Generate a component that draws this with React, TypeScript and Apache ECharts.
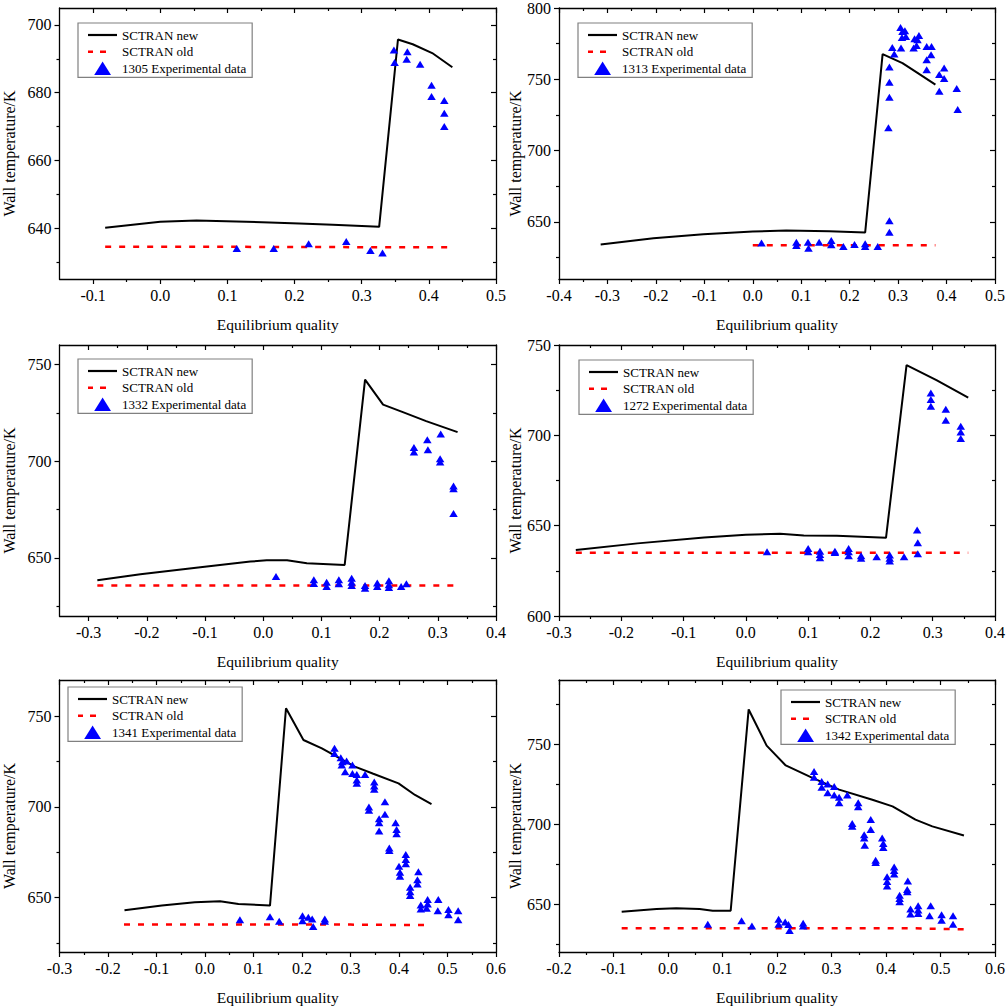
import React, { useEffect, useRef } from "react";
import * as echarts from "echarts";

const FONT = "Liberation Serif, Times New Roman, Times, serif";

const caseIds = ["1305", "1313", "1332", "1272", "1341", "1342"];
const seriesNewName = "SCTRAN new";
const seriesOldName = "SCTRAN old";
const xTitle = "Equilibrium quality";
const yTitle = "Wall temperature/K";

// axis ranges
const xMins = [-0.15, -0.4, -0.35, -0.3, -0.3, -0.2];
const xMaxs = [0.5, 0.5, 0.4, 0.4, 0.6, 0.6];
const yMins = [625, 610, 620, 600, 620, 620];
const yMaxs = [705, 800, 760, 750, 770, 790];

// tick values
const xMajorTicks = [
  [-0.1, 0, 0.1, 0.2, 0.3, 0.4, 0.5],
  [-0.4, -0.3, -0.2, -0.1, 0, 0.1, 0.2, 0.3, 0.4, 0.5],
  [-0.3, -0.2, -0.1, 0, 0.1, 0.2, 0.3, 0.4],
  [-0.3, -0.2, -0.1, 0, 0.1, 0.2, 0.3, 0.4],
  [-0.3, -0.2, -0.1, 0, 0.1, 0.2, 0.3, 0.4, 0.5, 0.6],
  [-0.2, -0.1, 0, 0.1, 0.2, 0.3, 0.4, 0.5, 0.6],
];
const xMinorTicks = [
  [-0.05, 0.05, 0.15, 0.25, 0.35, 0.45],
  [-0.35, -0.25, -0.15, -0.05, 0.05, 0.15, 0.25, 0.35, 0.45],
  [-0.25, -0.15, -0.05, 0.05, 0.15, 0.25, 0.35],
  [-0.25, -0.15, -0.05, 0.05, 0.15, 0.25, 0.35],
  [-0.25, -0.15, -0.05, 0.05, 0.15, 0.25, 0.35, 0.45, 0.55],
  [-0.15, -0.05, 0.05, 0.15, 0.25, 0.35, 0.45, 0.55],
];
const yMajorTicks = [
  [640, 660, 680, 700],
  [650, 700, 750, 800],
  [650, 700, 750],
  [600, 650, 700, 750],
  [650, 700, 750],
  [650, 700, 750],
];
const yMinorTicks = [
  [630, 650, 670, 690],
  [625, 675, 725, 775],
  [625, 675, 725],
  [625, 675, 725],
  [625, 675, 725],
  [625, 675, 725, 775],
];

// ---- Panel 1 (1305)
const p1New = [
  [-0.082, 640.1], [0.0, 641.9], [0.054, 642.3], [0.163, 641.7], [0.207, 641.4],
  [0.257, 641.0], [0.326, 640.4], [0.354, 695.7], [0.376, 694.3], [0.405, 691.7], [0.435, 687.5],
];
const p1Old = [[-0.082, 634.5], [0.1, 634.5], [0.3, 634.4], [0.436, 634.4]];
const p1Exp = [
  [0.114, 634.0], [0.169, 634.0], [0.221, 635.4], [0.277, 636.1], [0.313, 633.4], [0.331, 632.7],
  [0.348, 692.6], [0.349, 688.9], [0.368, 692.1], [0.367, 689.9], [0.387, 688.4], [0.404, 682.2],
  [0.404, 678.9], [0.423, 677.7], [0.423, 673.9], [0.423, 670.0],
];

// ---- Panel 2 (1313)
const p2New = [
  [-0.314, 634.2], [-0.205, 638.6], [-0.102, 641.4], [0.0, 643.3], [0.069, 644.0], [0.158, 643.5],
  [0.232, 642.6], [0.268, 767.7], [0.309, 761.4], [0.34, 754.5], [0.377, 746.3],
];
const p2Old = [[0.0, 633.7], [0.1, 633.7], [0.2, 633.7], [0.3, 633.7], [0.377, 633.7]];
const p2Exp = [
  [0.305, 786.3], [0.314, 784.0], [0.309, 783.5], [0.308, 779.3], [0.316, 780.0], [0.334, 778.4],
  [0.343, 780.7], [0.34, 777.7], [0.288, 772.3], [0.306, 771.9], [0.332, 771.9], [0.338, 773.7],
  [0.359, 773.0], [0.369, 773.0], [0.292, 767.7], [0.359, 763.7], [0.368, 767.2], [0.282, 758.6],
  [0.395, 757.9], [0.359, 756.7], [0.385, 753.3], [0.395, 750.5], [0.282, 747.9], [0.421, 743.5],
  [0.385, 741.6], [0.282, 737.4], [0.423, 728.8], [0.28, 716.0], [0.282, 650.9], [0.282, 642.8],
  [0.018, 635.3], [0.09, 635.8], [0.09, 633.5], [0.114, 635.8], [0.115, 631.6], [0.137, 635.8],
  [0.162, 637.0], [0.162, 634.0], [0.187, 632.8], [0.21, 634.2], [0.232, 634.7], [0.232, 632.8],
  [0.258, 632.8],
];

// ---- Panel 3 (1332)
const p3New = [
  [-0.285, 638.5], [-0.211, 641.6], [-0.108, 645.2], [-0.022, 648.1], [0.006, 648.8], [0.041, 648.8],
  [0.075, 647.3], [0.14, 646.4], [0.175, 742.1], [0.206, 729.2], [0.24, 725.3], [0.28, 720.7], [0.334, 715.0],
];
const p3Old = [[-0.285, 635.8], [0.0, 635.8], [0.2, 635.8], [0.336, 635.8]];
const p3Exp = [
  [0.022, 640.4], [0.087, 638.7], [0.087, 636.8], [0.109, 637.5], [0.109, 635.2], [0.13, 638.7],
  [0.13, 636.6], [0.152, 639.5], [0.152, 637.5], [0.152, 635.8], [0.175, 635.8], [0.175, 634.4],
  [0.196, 637.0], [0.196, 635.2], [0.216, 638.2], [0.216, 636.1], [0.216, 634.7], [0.237, 635.2],
  [0.246, 636.6], [0.259, 707.0], [0.259, 704.7], [0.282, 711.1], [0.283, 705.9], [0.305, 714.0],
  [0.304, 701.3], [0.304, 699.6], [0.327, 687.2], [0.327, 685.8], [0.327, 673.0],
];

// ---- Panel 4 (1272)
const p4New = [
  [-0.273, 636.5], [-0.174, 640.2], [-0.067, 643.5], [0.0, 645.0], [0.055, 645.5], [0.093, 644.6],
  [0.146, 644.4], [0.225, 643.3], [0.258, 738.9], [0.306, 730.5], [0.357, 720.9],
];
const p4Old = [[-0.273, 635.0], [0.0, 635.0], [0.2, 635.0], [0.357, 635.0]];
const p4Exp = [
  [0.034, 635.6], [0.1, 637.4], [0.1, 635.6], [0.119, 635.9], [0.119, 634.1], [0.119, 632.3],
  [0.143, 635.9], [0.143, 635.2], [0.165, 637.4], [0.165, 635.6], [0.165, 633.4], [0.185, 633.4],
  [0.185, 631.9], [0.21, 632.8], [0.231, 633.7], [0.231, 632.0], [0.231, 630.4], [0.254, 632.8],
  [0.275, 647.6], [0.276, 640.6], [0.276, 634.5], [0.297, 723.5], [0.297, 719.8], [0.297, 716.1],
  [0.321, 714.4], [0.321, 708.4], [0.345, 705.0], [0.345, 701.9], [0.345, 698.2],
];

// ---- Panel 5 (1341)
const p5New = [
  [-0.166, 643.0], [-0.089, 645.6], [-0.021, 647.4], [0.031, 648.0], [0.069, 646.5], [0.134, 645.6],
  [0.167, 754.4], [0.203, 736.9], [0.241, 732.3], [0.309, 722.2], [0.347, 718.3], [0.399, 713.0],
  [0.433, 706.6], [0.467, 701.6],
];
const p5Old = [[-0.167, 635.2], [0.1, 635.2], [0.3, 635.1], [0.4, 634.9], [0.467, 634.9]];
const p5Exp = [
  [0.267, 732.3], [0.267, 729.5], [0.28, 727.1], [0.283, 724.9], [0.292, 725.3], [0.282, 723.1],
  [0.304, 723.1], [0.289, 719.4], [0.304, 718.5], [0.313, 717.9], [0.313, 714.8], [0.313, 713.0],
  [0.33, 717.9], [0.349, 713.8], [0.349, 711.6], [0.349, 709.8], [0.338, 700.0], [0.338, 698.2],
  [0.371, 702.8], [0.371, 696.0], [0.359, 693.5], [0.359, 691.3], [0.359, 686.7], [0.393, 691.3],
  [0.395, 687.6], [0.395, 685.2], [0.38, 677.3], [0.38, 676.0], [0.414, 673.7], [0.414, 671.0],
  [0.414, 668.6], [0.4, 667.3], [0.402, 664.0], [0.402, 661.8], [0.44, 664.2], [0.438, 659.9],
  [0.438, 657.5], [0.423, 655.7], [0.423, 653.2], [0.423, 651.1], [0.445, 645.9], [0.445, 643.7],
  [0.459, 648.9], [0.459, 646.5], [0.457, 644.1], [0.481, 648.9], [0.48, 642.8], [0.502, 643.4],
  [0.502, 640.6], [0.522, 642.8], [0.522, 637.8],
  [0.072, 637.8], [0.134, 639.5], [0.153, 636.9], [0.201, 640.0], [0.201, 637.2], [0.213, 639.1],
  [0.221, 638.2], [0.223, 634.0], [0.247, 638.2], [0.247, 636.9],
];

// ---- Panel 6 (1342)
const p6New = [
  [-0.085, 645.2], [-0.021, 646.9], [0.015, 647.3], [0.058, 646.9], [0.082, 645.8], [0.115, 645.8],
  [0.148, 771.6], [0.181, 749.0], [0.216, 736.6], [0.265, 728.8], [0.314, 721.5], [0.375, 715.2],
  [0.412, 711.0], [0.454, 702.7], [0.485, 698.5], [0.543, 692.8],
];
const p6Old = [[-0.085, 634.9], [0.1, 634.9], [0.3, 634.9], [0.45, 634.8], [0.543, 634.2]];
const p6Exp = [
  [0.268, 732.8], [0.268, 729.2], [0.282, 726.5], [0.282, 722.9], [0.293, 725.0], [0.293, 719.6],
  [0.305, 723.4], [0.305, 718.1], [0.314, 716.7], [0.314, 713.3], [0.329, 718.1], [0.349, 713.3],
  [0.349, 710.8], [0.372, 702.8], [0.372, 696.5], [0.338, 700.3], [0.338, 698.6], [0.36, 693.3],
  [0.36, 691.2], [0.361, 686.7], [0.393, 691.2], [0.395, 687.8], [0.395, 685.3], [0.381, 677.4],
  [0.381, 676.0], [0.415, 673.1], [0.415, 670.9], [0.415, 668.8], [0.402, 667.1], [0.402, 664.0],
  [0.402, 661.3], [0.44, 664.4], [0.439, 659.1], [0.439, 657.6], [0.425, 655.5], [0.425, 653.5],
  [0.425, 651.4], [0.445, 646.9], [0.445, 643.7], [0.459, 648.9], [0.459, 646.2], [0.459, 644.1],
  [0.482, 648.9], [0.48, 642.6], [0.502, 643.3], [0.502, 639.9], [0.523, 642.6], [0.523, 637.4],
  [0.073, 637.4], [0.135, 639.5], [0.154, 636.3], [0.203, 640.4], [0.203, 637.4], [0.215, 638.8],
  [0.221, 637.2], [0.223, 633.4], [0.248, 638.0], [0.248, 636.3],
];

const newData = [p1New, p2New, p3New, p4New, p5New, p6New];
const oldData = [p1Old, p2Old, p3Old, p4Old, p5Old, p6Old];
const expData = [p1Exp, p2Exp, p3Exp, p4Exp, p5Exp, p6Exp];

// legend icons drawn in a 29 x 14 box (corner anchors keep the box size)
const ICON_BOX = "M0,0L0,0M29,14L29,14";
const ICON_LINE = "path://" + ICON_BOX + "M0,5.9L29,5.9L29,8.1L0,8.1Z";
const ICON_DASH =
  "path://" + ICON_BOX + "M0,5.7L5,5.7L5,8.3L0,8.3ZM12,5.7L18,5.7L18,8.3L12,8.3Z";
const ICON_TRI = "path://" + ICON_BOX + "M14.6,0L23,13.6L6.2,13.6Z";

function buildOption() {
  const grid: any[] = [];
  const xAxis: any[] = [];
  const yAxis: any[] = [];
  const series: any[] = [];
  const legend: any[] = [];

  const gridLefts = [59, 559];
  const gridTops = [8, 345, 680];
  const gridHeights = [271, 271, 272];
  const legendPos = [
    [78, 23], [578, 23], [78, 359], [579, 360], [68, 687], [781, 690],
  ];
  const yNameGaps = [42.5, 32.5];

  const axisLine = { show: true, onZero: false, lineStyle: { color: "#000", width: 1.3 } };
  const noLine = { show: false, onZero: false };
  const tickStyle = { color: "#000", width: 1.2 };

  for (let i = 0; i < 6; i++) {
    const col = i % 2;
    const row = Math.floor(i / 2);
    grid.push({
      left: gridLefts[col],
      top: gridTops[row],
      width: 437,
      height: gridHeights[row],
      containLabel: false,
    });

    const xb = { type: "value", gridIndex: i, min: xMins[i], max: xMaxs[i], splitLine: { show: false } };
    const yb = { type: "value", gridIndex: i, min: yMins[i], max: yMaxs[i], splitLine: { show: false } };

    xAxis.push({
      ...xb,
      position: "bottom",
      axisLine,
      axisTick: { show: true, inside: false, length: 5, customValues: xMajorTicks[i], lineStyle: tickStyle },
      axisLabel: {
        show: true,
        customValues: xMajorTicks[i],
        formatter: (v: number) => v.toFixed(1),
        margin: 8,
        color: "#000",
        fontFamily: FONT,
        fontSize: 16,
      },
      name: xTitle,
      nameLocation: "middle",
      nameGap: 37,
      nameTextStyle: { fontFamily: FONT, fontSize: 15.5, color: "#000" },
    });
    xAxis.push({
      ...xb,
      position: "bottom",
      axisLine: noLine,
      axisTick: { show: true, inside: false, length: 3, customValues: xMinorTicks[i], lineStyle: tickStyle },
      axisLabel: { show: false },
    });
    xAxis.push({
      ...xb,
      position: "top",
      axisLine,
      axisTick: { show: true, inside: true, length: 5, customValues: xMajorTicks[i], lineStyle: tickStyle },
      axisLabel: { show: false },
    });
    xAxis.push({
      ...xb,
      position: "top",
      axisLine: noLine,
      axisTick: { show: true, inside: true, length: 3, customValues: xMinorTicks[i], lineStyle: tickStyle },
      axisLabel: { show: false },
    });

    yAxis.push({
      ...yb,
      position: "left",
      axisLine,
      axisTick: { show: true, inside: false, length: 5, customValues: yMajorTicks[i], lineStyle: tickStyle },
      axisLabel: {
        show: true,
        customValues: yMajorTicks[i],
        formatter: (v: number) => String(Math.round(v)),
        margin: 8,
        color: "#000",
        fontFamily: FONT,
        fontSize: 16,
      },
      name: yTitle,
      nameLocation: "middle",
      nameRotate: 90,
      nameGap: yNameGaps[col],
      nameTextStyle: { fontFamily: FONT, fontSize: 16, color: "#000", padding: [0, 20, 0, 0] },
    });
    yAxis.push({
      ...yb,
      position: "left",
      axisLine: noLine,
      axisTick: { show: true, inside: false, length: 3, customValues: yMinorTicks[i], lineStyle: tickStyle },
      axisLabel: { show: false },
    });
    yAxis.push({
      ...yb,
      position: "right",
      axisLine,
      axisTick: { show: true, inside: true, length: 5, customValues: yMajorTicks[i], lineStyle: tickStyle },
      axisLabel: { show: false },
    });
    yAxis.push({
      ...yb,
      position: "right",
      axisLine: noLine,
      axisTick: { show: true, inside: true, length: 3, customValues: yMinorTicks[i], lineStyle: tickStyle },
      axisLabel: { show: false },
    });

    const ax = i * 4;
    const expName = `${caseIds[i]} Experimental data`;
    series.push({
      type: "line",
      name: seriesNewName,
      xAxisIndex: ax,
      yAxisIndex: ax,
      data: newData[i],
      symbol: "none",
      showSymbol: false,
      lineStyle: { color: "#000", width: 2 },
      itemStyle: { color: "#000" },
      z: 2,
    });
    series.push({
      type: "line",
      name: seriesOldName,
      xAxisIndex: ax,
      yAxisIndex: ax,
      data: oldData[i],
      symbol: "none",
      showSymbol: false,
      lineStyle: { color: "#ff0000", width: 2.5, type: [6, 8] },
      itemStyle: { color: "#ff0000" },
      z: 2,
    });
    series.push({
      type: "scatter",
      name: expName,
      xAxisIndex: ax,
      yAxisIndex: ax,
      data: expData[i],
      symbol: "triangle",
      symbolSize: [8.5, 7],
      itemStyle: { color: "#0000ff", opacity: 1 },
      z: 3,
    });

    legend.push({
      orient: "vertical",
      left: legendPos[i][0],
      top: legendPos[i][1],
      data: [
        { name: seriesNewName, icon: ICON_LINE },
        { name: seriesOldName, icon: ICON_DASH },
        { name: expName, icon: ICON_TRI },
      ],
      itemWidth: 29,
      itemHeight: 14,
      itemGap: 2.7,
      symbolKeepAspect: false,
      itemStyle: { borderWidth: 0, opacity: 1 },
      padding: [5, 6, 2, 10],
      borderColor: "#808080",
      borderWidth: 1.2,
      backgroundColor: "#ffffff",
      selectedMode: false,
      textStyle: { fontFamily: FONT, fontSize: 13, color: "#000" },
    });
  }

  return {
    animation: false,
    backgroundColor: "#ffffff",
    grid,
    xAxis,
    yAxis,
    series,
    legend,
  };
}

export default function App() {
  const ref = useRef<HTMLDivElement>(null);
  useEffect(() => {
    if (!ref.current) return;
    const chart = echarts.init(ref.current, undefined, { renderer: "svg" });
    chart.setOption(buildOption() as any);
    return () => {
      chart.dispose();
    };
  }, []);
  return (
    <div
      ref={ref}
      style={{ position: "absolute", left: 0, top: 0, width: 1008, height: 1007, background: "#fff" }}
    />
  );
}
